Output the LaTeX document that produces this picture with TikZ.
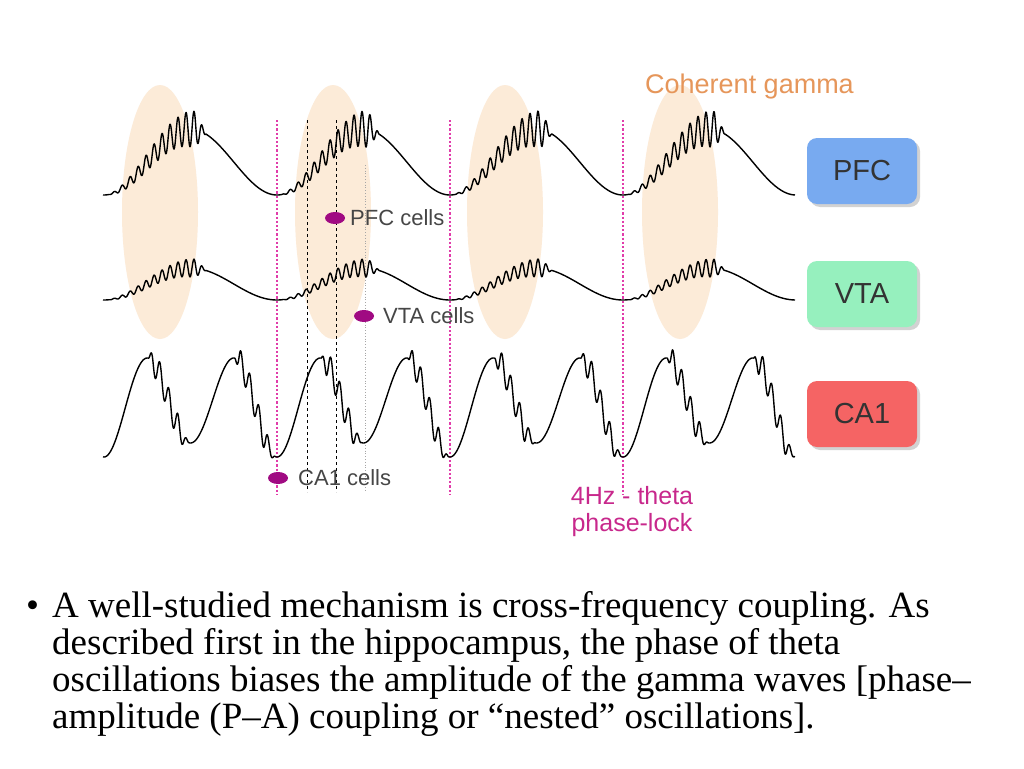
\documentclass[tikz,border=0pt]{standalone}
\usepackage{fontspec}
\setmainfont{Liberation Serif}
\newfontfamily\arialf{Liberation Sans}
\usetikzlibrary{shadows,shapes.geometric}
\definecolor{peach}{RGB}{252,235,216}
\definecolor{pinkl}{RGB}{225,60,170}
\definecolor{dotc}{RGB}{160,10,130}
\definecolor{labg}{RGB}{70,70,70}
\definecolor{bluebox}{RGB}{120,170,240}
\definecolor{greenbox}{RGB}{150,240,190}
\definecolor{redbox}{RGB}{245,100,100}
\definecolor{orng}{RGB}{230,150,90}
\definecolor{magt}{RGB}{200,40,140}
\tikzset{
  declare function={
    thP(\x)=mod(\x+1626,173)/173*360;
    envP(\t)=max(min(min((\t-10)/170,(212-\t)/22),1),0);
    gam(\x)=sin(mod(\x,8)*45);
    phC(\x)=mod(\x+1453,86.5)/86.5*360;
    psC(\x)=mod(\x+1453,173)/173*360;
    envC(\t)=max(min(min((\t-185)/20,(352-\t)/40),1),0);
    gamC(\x)=sin(mod(\x,9)*40);
  },
  wave/.style={line width=1.4pt, black, line join=round},
  pinkline/.style={pinkl, line width=2.2pt, dotted},
  thindash/.style={black, line width=0.5pt, dashed},
  cell/.style={ellipse, fill=dotc, minimum width=20pt, minimum height=12pt, inner sep=0pt},
  clab/.style={font=\arialf\fontsize{22}{24}\selectfont, text=labg, anchor=west, inner sep=0pt},
  rbox/.style={rounded corners=10pt, minimum width=110pt, minimum height=66pt, font=\arialf\fontsize{29}{32}\selectfont, text=black!80, drop shadow={shadow xshift=3pt, shadow yshift=-3pt, opacity=0.35}},
  body/.style={font=\fontsize{37}{42}\selectfont, anchor=base west, inner sep=0pt}
}
\begin{document}
\begin{tikzpicture}[x=1pt,y=-1pt]
\useasboundingbox (0,0) rectangle (1024,768);
\fill[white] (0,0) rectangle (1024,768);
% coherent gamma ellipses
\foreach \cx in {160,333,505,680} \fill[peach] (\cx,212) ellipse (38 and 127);
% vertical guides
\foreach \vx in {277,450,623} \draw[pinkline] (\vx,120) -- (\vx,495);
\draw[thindash] (307,120) -- (307,492);
\draw[thindash] (336,120) -- (336,492);
\draw[black!35, line width=0.8pt, dotted] (365,165) -- (365,492);
% waves
\draw[wave] plot[domain=103:795, samples=1500, smooth] (\x, {162+33*cos(thP(\x)) - 18*envP(thP(\x))*gam(\x)});
\draw[wave] plot[domain=103:795, samples=1500, smooth] (\x, {284+16*cos(thP(\x)) - 9*envP(thP(\x))*gam(\x)});
\draw[wave] plot[domain=103:795, samples=1500, smooth] (\x, {404+46*cos(phC(\x)) + 7*cos(psC(\x))*(1+cos(phC(\x)))/2 + 13*envC(phC(\x))*gamC(\x)});
% cells
\node[cell] (pfcc) at (335,218) {};
\node[clab] (pfcl) at (350,218) {PFC cells};
\node[cell] (vtac) at (364,316) {};
\node[clab] (vtal) at (383,316) {VTA cells};
\node[cell] (ca1c) at (278,478) {};
\node[clab] (ca1l) at (298,478) {CA1 cells};
% boxes
\node[rbox, fill=bluebox] (pfc) at (862,171) {PFC};
\node[rbox, fill=greenbox] (vta) at (862,294) {VTA};
\node[rbox, fill=redbox] (ca1) at (862,414) {CA1};
\node[font=\arialf\fontsize{27}{29}\selectfont, text=orng, anchor=west, inner sep=0pt] (coh) at (645,87) {Coherent gamma};
\node[font=\arialf\fontsize{25}{27}\selectfont, text=magt, align=center, inner sep=0pt] (theta) at (632,512) {4Hz - theta\\phase-lock};
% bullet text
\node[body] (b0) at (26,617) {\textbullet};
\node[body] (b1) at (52,617) {A well-studied mechanism is cross-frequency coupling. As};
\node[body] (b2) at (52,654) {described first in the hippocampus, the phase of theta};
\node[body] (b3) at (52,691) {oscillations biases the amplitude of the gamma waves [phase–};
\node[body] (b4) at (52,728) {amplitude (P–A) coupling or “nested” oscillations].};
\end{tikzpicture}
\end{document}
